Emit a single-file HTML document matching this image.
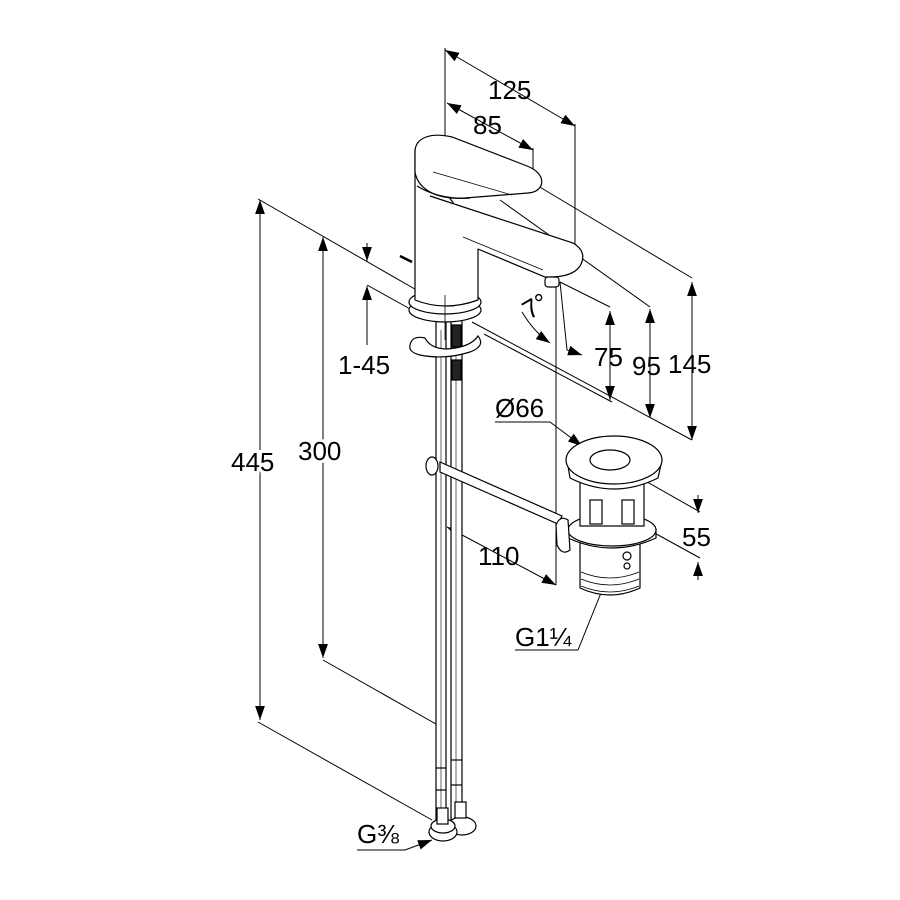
<!DOCTYPE html>
<html><head><meta charset="utf-8"><style>
html,body{margin:0;padding:0;background:#fff}
svg{display:block}
text{font-family:"Liberation Sans",Arial,sans-serif;font-size:26px;fill:#000}
</style></head><body>
<svg width="900" height="900" viewBox="0 0 900 900" xmlns="http://www.w3.org/2000/svg">
<defs>
<marker id="a" viewBox="0 0 10 10" refX="10" refY="5" markerWidth="14" markerHeight="14" markerUnits="userSpaceOnUse" orient="auto-start-reverse"><path d="M0,1.5 L10,5 L0,8.5 Z" fill="#000"/></marker>
</defs>
<g stroke="#000" stroke-width="1" fill="none">
<line x1="445" y1="48" x2="445" y2="150"/>
<line x1="445" y1="50" x2="575" y2="126" marker-start="url(#a)" marker-end="url(#a)"/>
<line x1="575" y1="124" x2="575" y2="250"/>
<line x1="447" y1="103" x2="533" y2="150" marker-start="url(#a)" marker-end="url(#a)"/>
<line x1="533" y1="148" x2="533" y2="190"/>
<line x1="258" y1="199" x2="420" y2="292"/>
<line x1="260" y1="200" x2="260" y2="720" marker-start="url(#a)" marker-end="url(#a)"/>
<line x1="323" y1="237" x2="323" y2="658" marker-start="url(#a)" marker-end="url(#a)"/>
<line x1="258" y1="722" x2="432" y2="820"/>
<line x1="323" y1="660" x2="443" y2="728"/>
<line x1="367" y1="243" x2="367" y2="261" marker-end="url(#a)"/>
<line x1="367" y1="345" x2="367" y2="286" marker-end="url(#a)"/>
<line x1="367" y1="285" x2="412" y2="310"/>
<line x1="472" y1="322" x2="692" y2="440"/>
<line x1="484" y1="334" x2="612" y2="402"/>
<line x1="533" y1="183" x2="692" y2="278"/>
<line x1="500" y1="200" x2="650" y2="307"/>
<line x1="560" y1="282" x2="610" y2="307"/>
<line x1="692" y1="282" x2="692" y2="440" marker-start="url(#a)" marker-end="url(#a)"/>
<line x1="650" y1="309" x2="650" y2="418" marker-start="url(#a)" marker-end="url(#a)"/>
<line x1="610" y1="311" x2="610" y2="400" marker-start="url(#a)" marker-end="url(#a)"/>
<line x1="556" y1="283" x2="556" y2="585"/>
<line x1="560" y1="282" x2="567" y2="350"/>
<path d="M522,312 Q534,332 550,343" marker-end="url(#a)"/>
<line x1="567" y1="350" x2="582" y2="355" marker-end="url(#a)"/>
<line x1="447" y1="527" x2="556" y2="585" marker-start="url(#a)" marker-end="url(#a)"/>
<line x1="495" y1="422" x2="550" y2="422"/>
<line x1="550" y1="422" x2="582" y2="446" marker-end="url(#a)"/>
<line x1="612" y1="462" x2="700" y2="512"/>
<line x1="640" y1="525" x2="700" y2="558"/>
<line x1="698" y1="495" x2="698" y2="513" marker-end="url(#a)"/>
<line x1="698" y1="580" x2="698" y2="562" marker-end="url(#a)"/>
<line x1="515" y1="650" x2="578" y2="650"/>
<line x1="578" y1="650" x2="607" y2="578" marker-end="url(#a)"/>
<line x1="357" y1="850" x2="405" y2="850"/>
<line x1="405" y1="850" x2="432" y2="840" marker-end="url(#a)"/>
</g>

<g stroke="#000" stroke-width="1.2" fill="#fff">
<rect x="436" y="320" width="10" height="500"/>
<rect x="451" y="320" width="11" height="500"/>
<line x1="441" y1="330" x2="441" y2="810" stroke-width="0.6"/>
<line x1="456" y1="330" x2="456" y2="810" stroke-width="0.6"/>
<rect x="452" y="325" width="9" height="22" fill="#222"/>
<rect x="452" y="360" width="9" height="20" fill="#222"/>
<line x1="436" y1="768" x2="446" y2="768"/><line x1="451" y1="760" x2="462" y2="760"/>
<line x1="436" y1="790" x2="446" y2="790"/><line x1="451" y1="785" x2="462" y2="785"/>
<ellipse cx="462" cy="826" rx="14" ry="9"/>
<ellipse cx="443" cy="832" rx="14" ry="9"/>
<ellipse cx="443" cy="826" rx="12" ry="7"/>
<rect x="437" y="808" width="11" height="16"/>
<rect x="455" y="802" width="11" height="16"/>
<path d="M440,462 L562,516 L558,524 L440,472 Z"/>
<ellipse cx="432" cy="466" rx="6" ry="9"/>
<path d="M410,345 Q412,335 425,338 Q430,348 445,349 Q470,348 478,336 Q486,346 470,352 Q445,360 420,355 Q408,352 410,345 Z"/>
<ellipse cx="445" cy="310" rx="36" ry="12"/>
<ellipse cx="445" cy="302" rx="36" ry="12"/>
<path d="M415,150 L415,300 Q445,312 478,300 L478,237 Z"/>
<path d="M430,195 L573,243 Q588,252 580,266 Q572,278 545,277 L470,245 L440,215 Z" stroke="none"/>
<path d="M430,196 L573,243 Q588,252 580,266 Q572,278 545,277 L478,249"/>
<line x1="463" y1="237" x2="543" y2="270" stroke-width="0.8"/>
<rect x="545" y="277" width="14" height="10" rx="3"/>
<path d="M415,152 C415,138 430,132 452,137 L527,166 C548,174 545,192 528,193 L465,198 C438,200 418,190 415,172 Z"/>
<path d="M417,186 Q440,200 470,198" fill="none"/>
<line x1="433" y1="172" x2="512" y2="195" stroke-width="0.8" fill="none"/>
<line x1="400" y1="256" x2="412" y2="262" stroke-width="2.5"/>
<!-- pop-up waste -->
<path d="M580,540 L580,588 Q610,602 640,588 L640,540 Z"/>
<path d="M581,572 Q610,584 639,572 M581,579 Q610,591 639,579 M581,586 Q610,598 639,586" fill="none" stroke-width="0.8"/>
<path d="M568,530 L568,538 Q612,558 656,538 L656,530 Z"/>
<ellipse cx="612" cy="530" rx="44" ry="16"/>
<rect x="580" y="480" width="64" height="46"/>
<rect x="590" y="500" width="12" height="24"/><rect x="622" y="500" width="12" height="24"/>
<path d="M567,460 L570,478 Q614,500 658,478 L662,460 Z"/>
<ellipse cx="614" cy="460" rx="48" ry="24"/>
<ellipse cx="610" cy="460" rx="20" ry="10"/>
<path d="M556,525 Q560,515 568,520 L570,550 Q562,556 557,545 Z"/>
<circle cx="627" cy="556" r="4"/><circle cx="627" cy="566" r="3"/>
</g>
<g stroke="#000" stroke-width="0.8">
<line x1="445" y1="295" x2="445" y2="340"/>
</g>

<g>
<text x="488" y="99">125</text>
<text x="473" y="134">85</text>
<text x="231" y="471" style="paint-order:stroke;stroke:#fff;stroke-width:6px">445</text>
<text x="298" y="460" style="paint-order:stroke;stroke:#fff;stroke-width:6px">300</text>
<text x="338" y="374">1-45</text>
<text x="594" y="366">75</text>
<text x="632" y="375">95</text>
<text x="668" y="373">145</text>
<text x="495" y="417">Ø66</text>
<text x="682" y="546">55</text>
<text x="478" y="565">110</text>
<text x="515" y="646">G1¼</text>
<text x="357" y="843">G⅜</text>
<text x="0" y="0" transform="translate(529,320) rotate(-30)">7°</text>
</g>
</svg>
</body></html>
